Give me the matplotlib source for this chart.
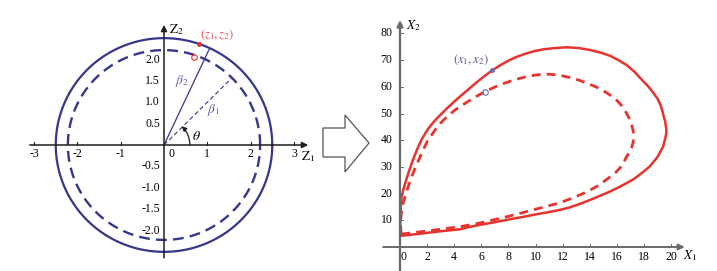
import numpy as np
import matplotlib
matplotlib.use("Agg")
import matplotlib.pyplot as plt
from matplotlib.patches import Polygon

plt.rcParams['font.family'] = ['Liberation Serif', 'DejaVu Serif']
plt.rcParams['mathtext.fontset'] = 'stix'

NAVY = '#36368c'
RED = '#e8322d'
AXIS_L = '#1e1e1e'
AXIS_R = '#6a6a6a'

# === left panel: (Z1, Z2) plane ===
r_solid = 2.5
r_dashed = 2.22
beta2_deg = 65.0
beta1_deg = 45.0
point_deg = 71.0
theta_r = 0.6
left_xticks = [-3, -2, -1, 0, 1, 2, 3]
left_yticks = [-2.0, -1.5, -1.0, -0.5, 0.5, 1.0, 1.5, 2.0]

# === right panel: (X1, X2) plane ===
x1_solid = [0.05, 0.5, 1, 2, 3, 4.4, 5, 6, 7, 8, 9, 10, 11, 11.8, 12.5, 13.3,
            14.3, 15.5, 16.1, 16.7, 17.2, 17.6, 18.0, 18.4, 18.7, 19.0, 19.2,
            19.4, 19.5, 19.6, 19.65, 19.6, 19.55, 19.45, 19.35, 19.2, 19.0,
            18.7, 18.3, 17.8, 17.3, 16.7, 16.1, 15.5, 14.8, 14.0, 13.2, 12.3,
            11.4, 10.6, 9.9, 9.2, 8.6, 8.0, 7.4, 6.76, 6.2, 5.6, 5.1, 4.55, 4.0,
            3.5, 3.0, 2.58, 2.2, 1.9, 1.6, 1.35, 1.15, 0.95, 0.78, 0.61, 0.45,
            0.3, 0.2, 0.12, 0.07, 0.05, 0.03, 0.02, 0.02, 0.05]
x2_solid = [4.2, 4.4, 4.7, 5.3, 5.9, 6.6, 7.4, 8.4, 9.3, 10.3, 11.2, 12.2, 13.1,
            13.9, 14.8, 16.2, 18.2, 20.8, 22.3, 23.9, 25.3, 26.8, 28.4, 30.1,
            31.9, 33.8, 35.7, 37.6, 39.5, 41.5, 43.5, 45.5, 47.2, 48.8, 51.0,
            53.3, 55.5, 57.6, 60.2, 62.8, 65.6, 68.2, 70.0, 71.6, 72.8, 73.8,
            74.5, 74.8, 74.5, 74.05, 73.35, 72.3, 71.2, 69.8, 68.1, 66.0, 63.9,
            61.45, 59.3, 56.9, 54.45, 52.1, 49.6, 47.4, 45.1, 42.9, 40.3, 37.6,
            35.1, 32.6, 30.1, 27.6, 25.0, 22.5, 20.5, 18.8, 16.3, 13.9, 11.0,
            8.0, 5.5, 4.2]
x1_dashed = [0.1, 1, 2, 3.2, 4.4, 5.2, 6, 7, 8, 9, 9.8, 10.8, 11.8, 12.8, 13.8,
             14.7, 15.5, 15.9, 16.2, 16.5, 16.7, 16.95, 17.1, 17.2, 17.2, 17.2,
             17.1, 16.95, 16.7, 16.5, 16.2, 15.9, 15.5, 15.1, 14.7, 14.25, 13.8,
             13.2, 12.5, 11.8, 11.06, 10.5, 10.0, 9.4, 8.85, 8.2, 7.5, 6.9,
             6.27, 5.7, 5.1, 4.6, 4.06, 3.6, 3.2, 2.85, 2.58, 2.3, 2.0, 1.6,
             1.2, 0.86, 0.6, 0.37, 0.22, 0.12, 0.07, 0.05, 0.07, 0.1]
x2_dashed = [4.8, 5.4, 6.0, 6.8, 7.6, 8.3, 9.1, 10.3, 11.5, 12.8, 13.9, 15.2,
             16.6, 18.5, 20.7, 23.2, 26.3, 27.9, 29.5, 31.6, 33.8, 35.7, 37.5,
             39.4, 41.3, 43.4, 45.5, 47.8, 50.1, 52.0, 53.8, 55.4, 56.9, 58.2,
             59.4, 60.4, 61.3, 62.5, 63.5, 64.3, 64.7, 64.7, 64.4, 63.9, 63.2,
             62.2, 61.0, 59.7, 58.2, 56.6, 54.8, 53.1, 51.3, 49.4, 47.5, 45.6,
             43.8, 41.7, 39.5, 35.1, 30.6, 26.3, 22.5, 18.8, 16.3, 13.9, 11.0,
             8.0, 6.0, 4.8]
pt_solid = (6.76, 66.2)
pt_dashed = (6.3, 58.2)
right_xticks = [0, 2, 4, 6, 8, 10, 12, 14, 16, 18, 20]
right_yticks = [10, 20, 30, 40, 50, 60, 70, 80]

W, H = 717, 271
fig = plt.figure(figsize=(W / 100, H / 100), dpi=100)


def px_axes(left, top, width, height):
    return fig.add_axes([left / W, 1 - (top + height) / H, width / W, height / H])


# left axes: origin at pixel (164,145), 43.3 px per unit in x, 42.75 in y
axL = px_axes(164 - 3.5 * 43.3, 145 - 3.1 * 42.75, 7.1 * 43.3, 6.0 * 42.75)
axL.set_xlim(-3.5, 3.6)
axL.set_ylim(-2.9, 3.1)
axL.axis('off')

t = np.linspace(0, 2 * np.pi, 500)
axL.plot(r_solid * np.cos(t), r_solid * np.sin(t), color=NAVY, lw=1.6)
axL.plot(r_dashed * np.cos(t), r_dashed * np.sin(t), color=NAVY, lw=1.7,
         dashes=(4.6, 2.6))

b2 = np.radians(beta2_deg)
b1 = np.radians(beta1_deg)
axL.plot([0, r_solid * np.cos(b2)], [0, r_solid * np.sin(b2)], color=NAVY, lw=0.9)
axL.plot([0, r_dashed * np.cos(b1)], [0, r_dashed * np.sin(b1)], color=NAVY,
         lw=0.8, dashes=(4, 2.5))

# axes with arrows
axL.annotate('', xy=(3.33, 0), xytext=(-3.1, 0),
             arrowprops=dict(arrowstyle='-|>', color=AXIS_L, lw=1.1,
                             mutation_scale=9, shrinkA=0, shrinkB=0))
axL.annotate('', xy=(0, 2.81), xytext=(0, -2.64),
             arrowprops=dict(arrowstyle='-|>', color=AXIS_L, lw=1.1,
                             mutation_scale=9, shrinkA=0, shrinkB=0))
for v in left_xticks:
    if v != 0:
        axL.plot([v, v], [0, 0.06], color=AXIS_L, lw=0.8)
    xpos = 0.18 if v == 0 else v
    axL.text(xpos, -0.21, '%d' % v if v >= 0 else '-%d' % abs(v),
             ha='center', va='center', fontsize=8.5)
for v in left_yticks:
    axL.text(-0.09, v, '%.1f' % v, ha='right', va='center', fontsize=8.5)

# theta arc with arrow
p0 = (theta_r, 0)
p1 = (theta_r * np.cos(np.radians(47)), theta_r * np.sin(np.radians(47)))
axL.annotate('', xy=p1, xytext=p0,
             arrowprops=dict(arrowstyle='-|>', color=AXIS_L, lw=0.9,
                             mutation_scale=7, shrinkA=0, shrinkB=0,
                             connectionstyle='arc3,rad=0.2'))
axL.text(0.75, 0.19, r'$\theta$', fontsize=10, ha='center', va='center')
axL.text(0.41, 1.5, r'$\beta_2$', fontsize=9.5, color='#5a5aa8',
         ha='center', va='center')
axL.text(1.15, 0.82, r'$\beta_1$', fontsize=9.5, color='#5a5aa8',
         ha='center', va='center')
axL.text(0.29, 2.71, r'$\mathrm{Z}_2$', fontsize=9.5, ha='center', va='center')
axL.text(3.33, -0.27, r'$\mathrm{Z}_1$', fontsize=9.5, ha='center', va='center')

pa = np.radians(point_deg)
axL.plot(r_solid * np.cos(pa), r_solid * np.sin(pa), marker='o', ms=2.5,
         color=RED, mec=RED)
axL.plot(r_dashed * np.cos(pa) - 0.02, r_dashed * np.sin(pa) - 0.04, marker='o',
         ms=4, mfc='none', mec=RED, mew=0.8)
axL.text(1.22, 2.58, r'$(z_1, z_2)$', fontsize=9, color='#f05050',
         ha='center', va='center')

# right axes: origin at pixel (400,247), 13.56 px per unit in x, 2.67 in y
axR = px_axes(400 - 1.5 * 13.56, 247 - 88 * 2.67, 24 * 13.56, 96.9 * 2.67)
axR.set_xlim(-1.5, 22.5)
axR.set_ylim(-8.9, 88)
axR.axis('off')

axR.plot(x1_solid, x2_solid, color=RED, lw=1.8, solid_joinstyle='round')
axR.plot(x1_dashed, x2_dashed, color=RED, lw=2.0, dashes=(3.2, 2.2))

axR.annotate('', xy=(21.0, 0), xytext=(-1.25, 0),
             arrowprops=dict(arrowstyle='-|>', color=AXIS_R, lw=1.4,
                             mutation_scale=9, shrinkA=0, shrinkB=0))
axR.annotate('', xy=(0, 85), xytext=(0, -8.9),
             arrowprops=dict(arrowstyle='-|>', color=AXIS_R, lw=1.6,
                             mutation_scale=9, shrinkA=0, shrinkB=0))
for v in right_xticks:
    if v != 0:
        axR.plot([v, v], [0, 1.0], color=AXIS_R, lw=0.7)
    xpos = 0.25 if v == 0 else v
    axR.text(xpos, -3.6, '%d' % v, ha='center', va='center', fontsize=8.5)
for v in right_yticks:
    axR.plot([0, 0.25], [v, v], color=AXIS_R, lw=0.7)
    axR.text(-0.55, v, '%d' % v, ha='right', va='center', fontsize=8.5)

axR.text(0.98, 82.8, r'$X_2$', fontsize=9.5, ha='center', va='center')
axR.text(21.4, -3.4, r'$X_1$', fontsize=9.5, ha='center', va='center')

axR.plot(*pt_solid, marker='o', ms=2.5, color='#6a6ab8')
axR.plot(*pt_dashed, marker='o', ms=4, mfc='none', mec='#6a6ab8', mew=0.8)
axR.text(5.25, 70.0, r'$(x_1, x_2)$', fontsize=9, color='#55559f',
         ha='center', va='center')

# block arrow between panels
arrow_px = [(323, 128), (345, 128), (345, 115), (369, 143), (345, 172),
            (345, 157), (323, 157)]
fig.patches.append(Polygon([(x / W, 1 - y / H) for x, y in arrow_px], closed=True,
                           fill=False, edgecolor='#555555', lw=0.9,
                           transform=fig.transFigure))

fig.savefig('out.png', dpi=100)
